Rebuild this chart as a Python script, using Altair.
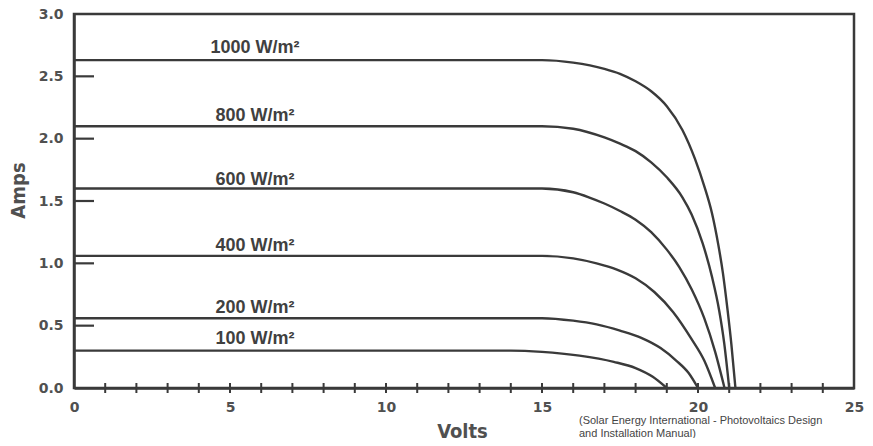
import altair as alt
import pandas as pd

# I-V curves (Volts, Amps)
v1000 = [0, 14.0, 15.0, 16.0, 17.0, 17.5, 18.0, 18.5, 19.0, 19.5, 19.9, 20.2, 20.45, 20.65, 20.8, 20.95, 21.07, 21.2]
i1000 = [2.63, 2.63, 2.63, 2.61, 2.56, 2.52, 2.46, 2.38, 2.26, 2.07, 1.84, 1.62, 1.40, 1.15, 0.92, 0.62, 0.35, 0.0]
v800 = [0, 14.0, 15.0, 16.0, 17.0, 17.5, 18.0, 18.5, 19.0, 19.5, 19.8, 20.15, 20.45, 20.68, 20.84, 21.0]
i800 = [2.10, 2.10, 2.10, 2.08, 2.01, 1.96, 1.90, 1.81, 1.69, 1.53, 1.39, 1.16, 0.89, 0.62, 0.36, 0.0]
v600 = [0, 14.0, 15.0, 16.0, 16.5, 17.0, 17.5, 18.0, 18.5, 19.0, 19.4, 19.8, 20.2, 20.55, 20.85]
i600 = [1.60, 1.60, 1.60, 1.57, 1.53, 1.48, 1.42, 1.35, 1.25, 1.11, 0.97, 0.79, 0.56, 0.29, 0.0]
v400 = [0, 14.0, 15.0, 16.0, 16.75, 17.4, 18.0, 18.6, 19.2, 19.8, 20.2, 20.55]
i400 = [1.06, 1.06, 1.06, 1.04, 1.00, 0.95, 0.88, 0.77, 0.61, 0.39, 0.22, 0.0]
v200 = [0, 14.0, 15.0, 16.0, 16.75, 17.5, 18.2, 18.8, 19.3, 19.7, 20.0]
i200 = [0.56, 0.56, 0.56, 0.54, 0.51, 0.46, 0.40, 0.32, 0.22, 0.12, 0.0]
v100 = [0, 14.0, 15.0, 16.2, 17.3, 18.0, 18.55, 19.0]
i100 = [0.30, 0.30, 0.29, 0.26, 0.21, 0.16, 0.09, 0.0]

series_names = ["1000", "800", "600", "400", "200", "100"]
labels = ["1000 W/m²", "800 W/m²", "600 W/m²", "400 W/m²", "200 W/m²", "100 W/m²"]
label_volts = [5.8, 5.8, 5.8, 5.8, 5.8, 5.8]
label_amps = [2.69, 2.14, 1.63, 1.10, 0.60, 0.35]

x_ticks = [0, 5, 10, 15, 20, 25]
y_ticks = [0.0, 0.5, 1.0, 1.5, 2.0, 2.5, 3.0]
y_inner_ticks = [0.5, 1.0, 1.5, 2.0, 2.5]
x_minor = list(range(1, 25))

source_text = "(Solar Energy International - Photovoltaics Design\nand Installation Manual)"

rows = []
for name, vs, is_ in zip(series_names,
                         [v1000, v800, v600, v400, v200, v100],
                         [i1000, i800, i600, i400, i200, i100]):
    for v, i in zip(vs, is_):
        rows.append({"series": name, "volts": v, "amps": i})
curves = pd.DataFrame(rows)
lab_df = pd.DataFrame({"label": labels, "volts": label_volts, "amps": label_amps})
ytick_df = pd.DataFrame({"amps": y_inner_ticks})
xtick_df = pd.DataFrame({"volts": x_minor})
src_df = pd.DataFrame({"text": [source_text]})

W, H = 780, 374
INK = "#3a3a3a"
LABEL_GRAY = "#505050"
TITLE_FONT = "Liberation Sans Narrow, DejaVu Sans Condensed, Liberation Sans, sans-serif"

xscale = alt.Scale(domain=[0, 25], nice=False, zero=False)
yscale = alt.Scale(domain=[0, 3], nice=False, zero=False)

x_enc = alt.X("volts:Q", scale=xscale, axis=alt.Axis(
    values=x_ticks, format="d", ticks=False, grid=False, labelPadding=12, labelFlush=False,
    labelFont="DejaVu Sans", labelFontWeight="bold", labelFontSize=14, labelColor=LABEL_GRAY,
    domainColor=INK, domainWidth=2.5,
    title="Volts", titleFont=TITLE_FONT,
    titleFontSize=20, titleFontWeight="bold", titleColor=LABEL_GRAY,
    titleX=388, titleY=49, titleAlign="center", titleBaseline="alphabetic"))
y_enc = alt.Y("amps:Q", scale=yscale, axis=alt.Axis(
    values=y_ticks, format=".1f", ticks=False, grid=False, labelPadding=11, labelFlush=False,
    labelFont="DejaVu Sans", labelFontWeight="bold", labelFontSize=14, labelColor=LABEL_GRAY,
    domainColor=INK, domainWidth=2.5,
    title="Amps", titleFont=TITLE_FONT,
    titleFontSize=20, titleFontWeight="bold", titleColor=LABEL_GRAY,
    titleX=-56, titleY=176, titleAngle=270, titleAlign="center", titleBaseline="middle"))

lines = alt.Chart(curves).mark_line(interpolate="monotone", strokeWidth=2.4, color=INK).encode(
    x=x_enc, y=y_enc, detail="series:N")

texts = alt.Chart(lab_df).mark_text(
    font="Liberation Sans, Arial, sans-serif", fontSize=18, fontWeight="bold",
    color="#404040", align="center", baseline="alphabetic").encode(
    x=alt.X("volts:Q", scale=xscale), y=alt.Y("amps:Q", scale=yscale), text="label:N")

yticks = alt.Chart(ytick_df).mark_rule(color=INK, strokeWidth=2.2).encode(
    y=alt.Y("amps:Q", scale=yscale), x=alt.value(0), x2=alt.value(20))

xticks = alt.Chart(xtick_df).mark_rule(color=INK, strokeWidth=2).encode(
    x=alt.X("volts:Q", scale=xscale), y=alt.value(H - 5), y2=alt.value(H + 5))

src = alt.Chart(src_df).mark_text(
    font="Liberation Sans, Arial, sans-serif", fontSize=11, color="#444444",
    align="left", baseline="top", lineBreak="\n", lineHeight=13).encode(
    x=alt.value(505), y=alt.value(H + 27), text="text:N")

chart = alt.layer(lines, yticks, xticks, texts, src).properties(
    width=W, height=H,
    autosize=alt.AutoSizeParams(type="none"),
    padding={"left": 66, "top": 6, "right": 11, "bottom": 50},
    background="white",
).configure_view(stroke=INK, strokeWidth=2.5)

chart.save("out.html", embed_options={"renderer": "svg", "actions": False})
